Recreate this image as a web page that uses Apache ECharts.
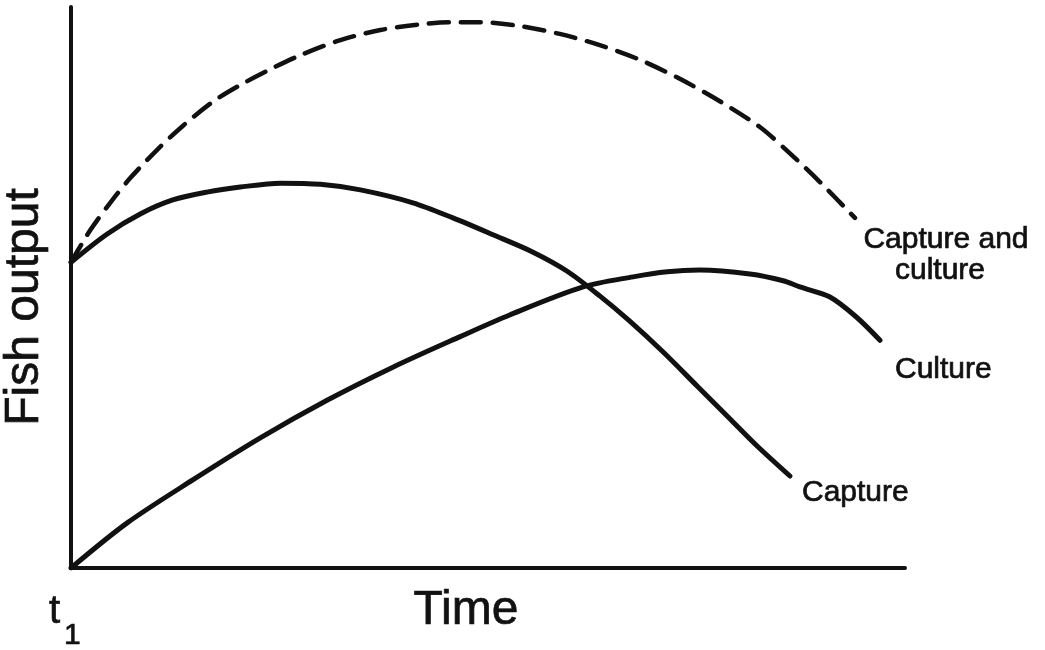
<!DOCTYPE html>
<html>
<head>
<meta charset="utf-8">
<script src="https://cdn.jsdelivr.net/npm/echarts@6/dist/echarts.min.js"></script>
<style>
  html, body { margin: 0; padding: 0; background: #fff; }
  #main { width: 1045px; height: 650px; }
</style>
</head>
<body>
<div id="main"></div>
<script>
// values (time and output in relative units 0-100)
var captureTime   = [0, 4.3, 8.3, 12.2, 16.3, 20.3, 25.1, 29.9, 34.7, 41.0, 45.8, 50.6, 55.4, 59.5, 63.4, 67.0, 71.0, 75.1, 79.0, 82.3, 86.2];
var captureOutput = [54.5, 59.5, 63.1, 65.6, 67.0, 67.9, 68.6, 68.4, 67.4, 65.1, 62.4, 59.4, 56.3, 52.9, 48.5, 44.0, 38.5, 32.4, 26.6, 21.7, 16.4];

var cultureTime   = [0, 6.7, 14.6, 22.7, 30.7, 38.6, 46.6, 52.6, 61.4, 67.4, 71.5, 75.4, 81.4, 85.4, 87.4, 91.0, 94.2, 97.0];
var cultureOutput = [0, 8.0, 15.7, 23.2, 29.9, 35.8, 41.2, 45.1, 50.1, 51.9, 52.8, 53.1, 52.4, 51.2, 50.1, 48.3, 44.7, 40.6];

var bothTime   = [0, 2.3, 4.7, 7.1, 10.3, 13.4, 17.0, 20.3, 23.9, 27.5, 32.3, 37.1, 41.8, 45.4, 49.0, 53.8, 58.6, 63.4, 68.2, 73.0, 77.8, 82.6, 86.2, 89.8, 94.0];
var bothOutput = [54.5, 60.2, 65.1, 69.5, 74.5, 78.8, 83.1, 86.1, 88.9, 91.4, 94.1, 95.9, 96.9, 97.3, 97.3, 96.6, 95.2, 93.2, 90.6, 87.2, 83.2, 78.6, 73.9, 68.8, 62.4];

function pairs(xs, ys) {
    var out = [];
    for (var i = 0; i < xs.length; i++) out.push([xs[i], ys[i]]);
    return out;
}

var ink = '#111';
var font = '"Liberation Sans", Arial, sans-serif';

function label(x, y, text, size, align) {
    return {
        type: 'text', x: x, y: y,
        style: {
            text: text, font: size + 'px ' + font, fill: ink,
            stroke: ink, lineWidth: 0.7,
            align: align || 'left', verticalAlign: 'middle'
        }
    };
}

var myChart = echarts.init(document.getElementById('main'));

var option = {
    backgroundColor: '#fff',
    animation: false,
    grid: { left: 71, right: 140, top: 7, bottom: 82 },
    xAxis: {
        type: 'value', min: 0, max: 100,
        axisLine: { show: true, lineStyle: { color: ink, width: 4 } },
        axisTick: { show: false }, axisLabel: { show: false },
        splitLine: { show: false }
    },
    yAxis: {
        type: 'value', min: 0, max: 100,
        axisLine: { show: true, lineStyle: { color: ink, width: 4 } },
        axisTick: { show: false }, axisLabel: { show: false },
        splitLine: { show: false }
    },
    series: [{
        name: 'Capture and culture',
        type: 'line', smooth: 0.3, showSymbol: false,
        lineStyle: { color: ink, width: 4.5, type: [20, 12], cap: 'round' },
        data: pairs(bothTime, bothOutput)
    }, {
        name: 'Capture',
        type: 'line', smooth: 0.3, showSymbol: false,
        lineStyle: { color: ink, width: 5, cap: 'round' },
        data: pairs(captureTime, captureOutput)
    }, {
        name: 'Culture',
        type: 'line', smooth: 0.3, showSymbol: false,
        lineStyle: { color: ink, width: 5, cap: 'round' },
        data: pairs(cultureTime, cultureOutput)
    }],
    graphic: [
        label(946, 240, 'Capture and', 30, 'center'),
        label(940, 271, 'culture', 30, 'center'),
        label(895, 370, 'Culture', 30),
        label(802, 493, 'Capture', 30),
        label(466, 611, 'Time', 48, 'center'),
        { type: 'text', x: 25, y: 307, rotation: Math.PI / 2, style: { text: 'Fish output', font: '48px ' + font, fill: ink, stroke: ink, lineWidth: 0.7, align: 'center', verticalAlign: 'middle' } },
        label(49, 612, 't', 40),
        label(64, 636, '1', 30)
    ]
};

myChart.setOption(option);
</script>
</body>
</html>
